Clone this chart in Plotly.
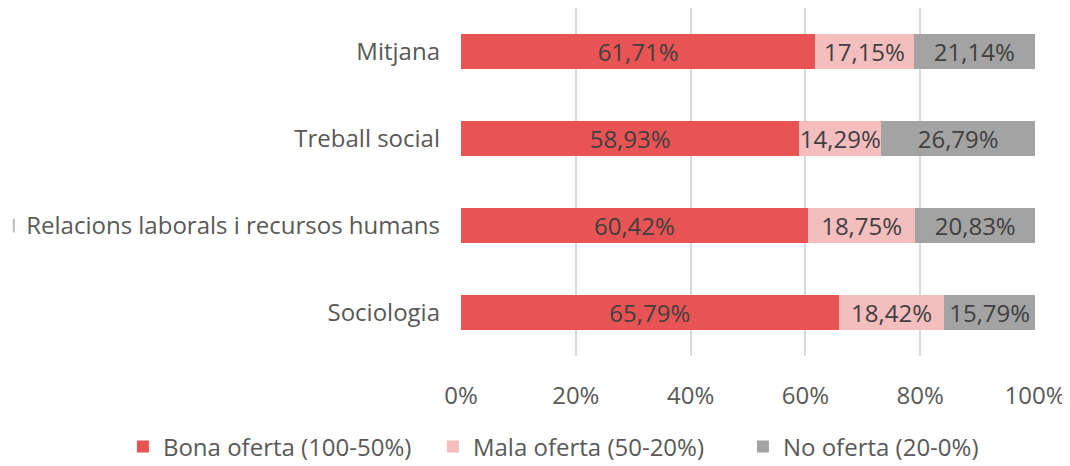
import plotly.graph_objects as go

categories = ["Sociologia", "Relacions laborals i recursos humans", "Treball social", "Mitjana"]
bona = [65.79, 60.42, 58.93, 61.71]
mala = [18.42, 18.75, 14.29, 17.15]
no_oferta = [15.79, 20.83, 26.79, 21.14]
series_names = ["Bona oferta (100-50%)", "Mala oferta (50-20%)", "No oferta (20-0%)"]
colors = ["#E85353", "#F5BEBE", "#A3A3A3"]
tick_vals = [0, 20, 40, 60, 80, 100]
tick_text = ["0%", "20%", "40%", "60%", "80%", "100%"]

FONT = "Open Sans"
FS = 24

def fmt(v):
    return f"{v:.2f}".replace(".", ",") + "%"

fig = go.Figure()
for name, vals, col in zip(series_names, [bona, mala, no_oferta], colors):
    fig.add_trace(go.Bar(
        y=categories, x=vals, name=name, orientation="h",
        marker=dict(color=col, line=dict(width=0)),
        text=[fmt(v) for v in vals], textposition="inside",
        insidetextanchor="middle",
        textfont=dict(family=FONT, size=FS, color="#404040"),
        hoverinfo="skip",
    ))

fig.update_layout(
    barmode="stack",
    bargap=0.6,
    width=1062, height=458,
    margin=dict(l=453, r=35, t=0, b=110, autoexpand=False),
    plot_bgcolor="white", paper_bgcolor="white",
    font=dict(family=FONT, size=FS, color="#595959"),
    uniformtext=dict(minsize=FS, mode="show"),
    xaxis=dict(range=[0, 100], tickvals=tick_vals, ticktext=tick_text,
               showgrid=True, gridcolor="#D9D9D9", gridwidth=2,
               zeroline=False, showline=False, ticks="",
               tickfont=dict(family=FONT, size=FS, color="#595959"),
               ticklabelstandoff=23),
    yaxis=dict(range=[-0.5, 3.5], showgrid=False, zeroline=False, showline=False,
               ticks="", ticklabelstandoff=20,
               tickfont=dict(family=FONT, size=FS, color="#595959")),
    legend=dict(orientation="h", xref="paper", yref="paper",
                x=-0.589, xanchor="left", y=-0.2615, yanchor="middle",
                traceorder="normal", entrywidth=265, entrywidthmode="pixels",
                font=dict(family=FONT, size=FS, color="#595959"),
                itemwidth=30, tracegroupgap=0),
    shapes=[dict(type="line", xref="paper", yref="y", x0=-0.779, x1=-0.779,
                 y0=1.08, y1=0.92, line=dict(color="#BFBFBF", width=2))],
)

fig.write_html("out.html")
